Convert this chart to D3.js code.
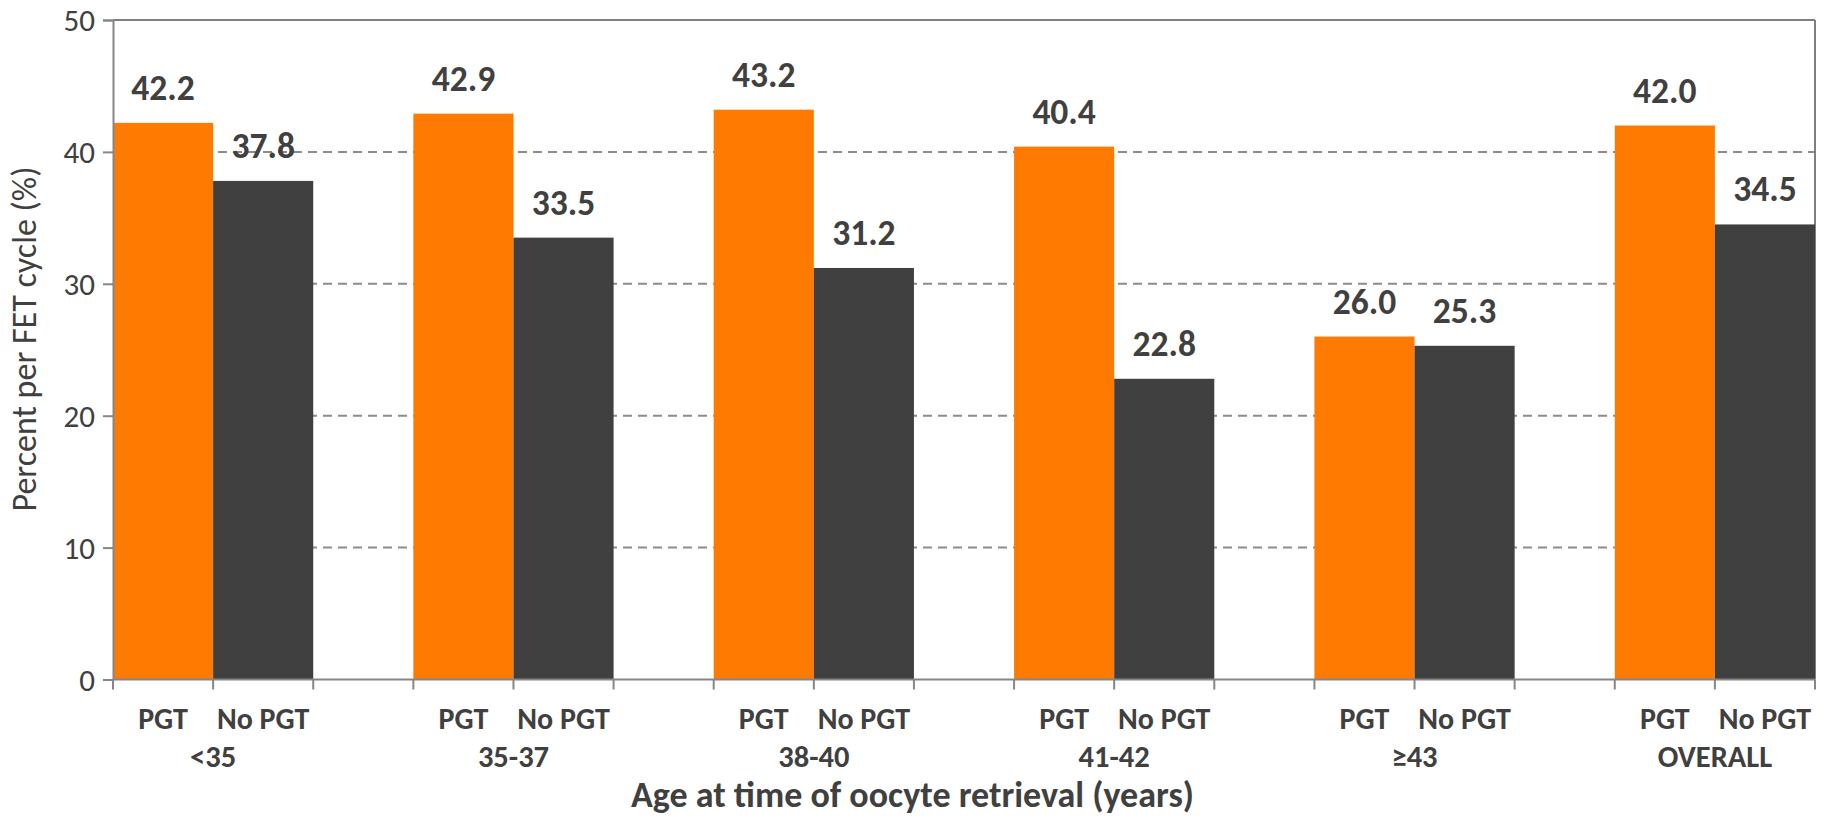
<!DOCTYPE html>
<html>
<head>
<meta charset="utf-8">
<script src="https://cdn.jsdelivr.net/npm/d3@7"></script>
<style>
  html, body { margin: 0; padding: 0; background: #fff; }
  svg { display: block; }
  text { font-family: Calibri, Carlito, Lato, sans-serif; fill: #404040; }
</style>
</head>
<body>
<svg id="chart" width="1825" height="816"></svg>
<script>
// ---- data ----
const groups = ["<35", "35-37", "38-40", "41-42", "\u226543", "OVERALL"];
const seriesNames = ["PGT", "No PGT"];
const pgtValues = [42.2, 42.9, 43.2, 40.4, 26.0, 42.0];
const noPgtValues = [37.8, 33.5, 31.2, 22.8, 25.3, 34.5];
const yTicks = [0, 10, 20, 30, 40, 50];
const seriesColors = ["#FF7A00", "#404040"];
const yTitle = "Percent per FET cycle (%)";
const xTitle = "Age at time of oocyte retrieval (years)";

// ---- layout ----
const W = 1825, H = 816;
const plot = { left: 113, right: 1815, top: 20, bottom: 679.5 };

const svg = d3.select("#chart");

// slots: PGT, No PGT, gap for each group (last gap dropped)
const slots = [];
groups.forEach((g, gi) => {
  seriesNames.forEach(s => slots.push(g + "|" + s));
  if (gi < groups.length - 1) slots.push(g + "|gap");
});

const x = d3.scaleBand().domain(slots).range([plot.left, plot.right]).padding(0);
const y = d3.scaleLinear().domain([0, 50]).range([plot.bottom, plot.top]);

const bars = [];
groups.forEach((g, gi) => {
  bars.push({ group: g, series: seriesNames[0], value: pgtValues[gi], color: seriesColors[0] });
  bars.push({ group: g, series: seriesNames[1], value: noPgtValues[gi], color: seriesColors[1] });
});

// gridlines
svg.append("g")
  .selectAll("line")
  .data(yTicks.filter(t => t > 0 && t < 50))
  .join("line")
  .attr("x1", plot.left).attr("x2", plot.right)
  .attr("y1", d => y(d)).attr("y2", d => y(d))
  .attr("stroke", "#8C8C8C").attr("stroke-width", 2)
  .attr("stroke-dasharray", "9,6");

// top & right border
svg.append("line")
  .attr("x1", plot.left).attr("x2", plot.right)
  .attr("y1", y(50)).attr("y2", y(50))
  .attr("stroke", "#7F7F7F").attr("stroke-width", 2);
svg.append("line")
  .attr("x1", plot.right).attr("x2", plot.right)
  .attr("y1", y(50)).attr("y2", y(0))
  .attr("stroke", "#7F7F7F").attr("stroke-width", 2);

// bars
svg.append("g")
  .selectAll("rect")
  .data(bars)
  .join("rect")
  .attr("x", d => x(d.group + "|" + d.series))
  .attr("width", x.bandwidth())
  .attr("y", d => y(d.value))
  .attr("height", d => y(0) - y(d.value))
  .attr("fill", d => d.color);

// data labels
svg.append("g")
  .selectAll("text")
  .data(bars)
  .join("text")
  .attr("x", d => x(d.group + "|" + d.series) + x.bandwidth() / 2)
  .attr("y", d => y(d.value) - 23)
  .attr("text-anchor", "middle")
  .attr("font-size", 35.5)
  .attr("font-weight", "bold")
  .text(d => d.value.toFixed(1));

// y axis
const yAxis = d3.axisLeft(y).tickValues(yTicks).tickSize(10).tickPadding(8).tickFormat(d3.format("d"));
const gy = svg.append("g").attr("transform", `translate(${plot.left},0)`).call(yAxis);
gy.select(".domain").attr("stroke", "#868686").attr("stroke-width", 2);
gy.selectAll(".tick line").attr("stroke", "#868686").attr("stroke-width", 2);
gy.selectAll(".tick text")
  .attr("font-size", 31).attr("fill", "#404040")
  .style("font-family", "Calibri, Carlito, Lato, sans-serif")
  .attr("dy", "0.35em");

// x axis: baseline + boundary ticks
const boundaries = slots.map(s => x(s)).concat([plot.right]);
svg.append("line")
  .attr("x1", plot.left).attr("x2", plot.right)
  .attr("y1", y(0)).attr("y2", y(0))
  .attr("stroke", "#868686").attr("stroke-width", 2);
svg.append("g")
  .selectAll("line")
  .data(boundaries)
  .join("line")
  .attr("x1", d => d).attr("x2", d => d)
  .attr("y1", y(0)).attr("y2", y(0) + 10)
  .attr("stroke", "#868686").attr("stroke-width", 2);

// series labels under bars
svg.append("g")
  .selectAll("text")
  .data(bars)
  .join("text")
  .attr("x", d => x(d.group + "|" + d.series) + x.bandwidth() / 2)
  .attr("y", 729)
  .attr("text-anchor", "middle")
  .attr("font-size", 30)
  .attr("font-weight", "bold")
  .text(d => d.series);

// group labels
svg.append("g")
  .selectAll("text")
  .data(groups)
  .join("text")
  .attr("x", g => x(g + "|" + seriesNames[1]))
  .attr("y", 767)
  .attr("text-anchor", "middle")
  .attr("font-size", 30.5)
  .attr("font-weight", "bold")
  .text(g => g);

// x title
svg.append("text")
  .attr("x", W / 2)
  .attr("y", 807)
  .attr("text-anchor", "middle")
  .attr("font-size", 36)
  .attr("font-weight", "bold")
  .text(xTitle);

// y title
svg.append("text")
  .attr("transform", `translate(36,${339}) rotate(-90)`)
  .attr("text-anchor", "middle")
  .attr("font-size", 34)
  .text(yTitle);
</script>
</body>
</html>
